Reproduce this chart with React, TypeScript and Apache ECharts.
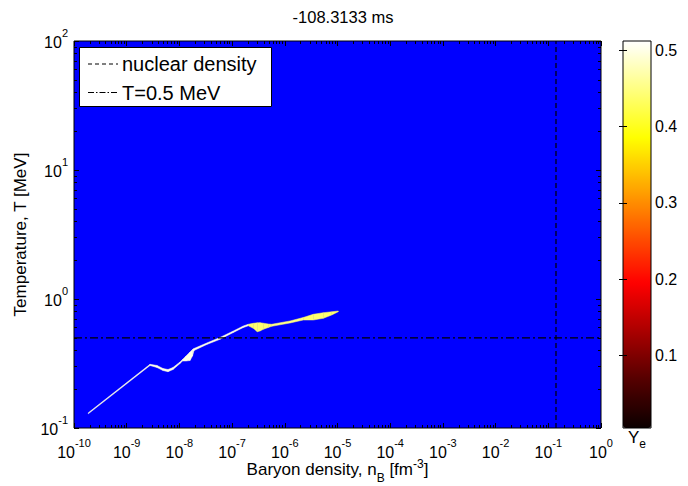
import React, { useEffect, useRef } from "react";
import * as echarts from "echarts";

const chartTitle = "-108.3133 ms";
const xAxisTitle = "Baryon density";
const yAxisTitle = "Temperature, T [MeV]";
const legendNames = ["nuclear density", "T=0.5 MeV"];

// axis tick labels (decades)
const xTickValues = [1e-10, 1e-9, 1e-8, 1e-7, 1e-6, 1e-5, 1e-4, 1e-3, 1e-2, 1e-1, 1];
const yTickValues = [0.1, 1, 10, 100];
const colorbarTicks = [0.1, 0.2, 0.3, 0.4, 0.5];
const colorbarRange = [0.005, 0.512];

// reference lines
const nuclearDensity = 0.14; // fm^-3
const tempLine = 0.5; // MeV

// trajectory band: baryon density, upper/lower temperature, Ye
const bandDensity = [
  1.867e-10, 2.77e-9, 3.76e-9, 4.89e-9, 6.08e-9, 7.56e-9, 1.027e-8, 1.145e-8, 1.334e-8,
  1.589e-8, 1.773e-8, 1.892e-8, 3.3e-8, 5.89e-8, 1.054e-7, 1.631e-7, 2.029e-7, 2.525e-7,
  3.007e-7, 3.383e-7, 3.908e-7, 4.863e-7, 5.641e-7, 1.255e-6, 2.244e-6, 3.473e-6,
  5.377e-6, 7.76e-6, 1.035e-5,
];
const bandTempUpper = [
  0.1312, 0.3118, 0.3052, 0.2891, 0.2841, 0.2944, 0.3248, 0.3396, 0.3614, 0.3882, 0.4059,
  0.4132, 0.4558, 0.503, 0.5648, 0.6177, 0.6367, 0.6481, 0.6539, 0.6551, 0.6493, 0.64,
  0.6367, 0.6753, 0.7188, 0.761, 0.783, 0.7957, 0.8072,
];
const bandTempLower = [
  0.1288, 0.3052, 0.2944, 0.279, 0.2731, 0.2841, 0.3162, 0.3306, 0.3306, 0.3336, 0.3614,
  0.3988, 0.4438, 0.4871, 0.5499, 0.6014, 0.6198, 0.5929, 0.5579, 0.5648, 0.5823, 0.6014,
  0.6144, 0.6516, 0.6874, 0.6874, 0.7086, 0.7516, 0.7972,
];
const bandYe = [
  0.5, 0.5, 0.5, 0.5, 0.5, 0.5, 0.5, 0.5, 0.5, 0.5, 0.5, 0.5, 0.5, 0.5, 0.5, 0.5, 0.44,
  0.44, 0.44, 0.44, 0.44, 0.44, 0.45, 0.45, 0.44, 0.44, 0.44, 0.44, 0.44,
];

// MATLAB "hot" colormap stops
const hotColors = [
  "#0b0000", "#550000", "#aa0000", "#ff0000", "#ff5500", "#ffaa00", "#ffff00", "#ffff80", "#ffffff",
];

const FONT = "'Liberation Sans', Arial, Helvetica, sans-serif";

function minorTicks(majors: number[]) {
  const out: number[] = [];
  for (let i = 0; i < majors.length - 1; i++) {
    for (let k = 2; k <= 9; k++) out.push(majors[i] * k);
  }
  return out;
}

const expRich = {
  b: { fontSize: 16, lineHeight: 18, verticalAlign: "bottom", color: "#000", fontFamily: FONT },
  sup: { fontSize: 11, lineHeight: 12, verticalAlign: "bottom", padding: [0, 0, 12, 0], color: "#000", fontFamily: FONT },
};
const expFormatter = (v: number) => `{b|10}{sup|${Math.round(Math.log10(v))}}`;

export default function App() {
  const ref = useRef<HTMLDivElement>(null);
  useEffect(() => {
    if (!ref.current) return;
    const chart = echarts.init(ref.current, null, { renderer: "svg" });
    const xMinor = minorTicks(xTickValues);
    const yMinor = minorTicks(yTickValues);
    const xMin = xTickValues[0];
    const xMax = xTickValues[xTickValues.length - 1];
    const yMin = yTickValues[0];
    const yMax = yTickValues[yTickValues.length - 1];

    const logX = (position: string, ticks: number[], len: number, extra: any = {}) => ({
      gridIndex: 0,
      type: "log",
      logBase: 10,
      min: xMin,
      max: xMax,
      position,
      axisLine: { show: false },
      splitLine: { show: false },
      axisTick: { show: true, inside: true, length: len, customValues: ticks, lineStyle: { color: "#000", width: 1 } },
      axisLabel: { show: false },
      z: 6,
      ...extra,
    });
    const logY = (position: string, ticks: number[], len: number, extra: any = {}) => ({
      gridIndex: 0,
      type: "log",
      logBase: 10,
      min: yMin,
      max: yMax,
      position,
      axisLine: { show: false },
      splitLine: { show: false },
      axisTick: { show: true, inside: true, length: len, customValues: ticks, lineStyle: { color: "#000", width: 1 } },
      axisLabel: { show: false },
      z: 6,
      ...extra,
    });

    const legendRow = (i: number, dash: number[]) => {
      const y = 64 + i * 28.5;
      return [
        {
          type: "line",
          z: 21,
          shape: { x1: 88, y1: y, x2: 118, y2: y },
          style: { stroke: "#000", lineWidth: 1, lineDash: dash },
        },
        {
          type: "text",
          z: 21,
          x: 122,
          y,
          style: {
            text: legendNames[i],
            fontSize: 20,
            fontFamily: FONT,
            fill: "#000",
            verticalAlign: "middle",
            align: "left",
          },
        },
      ];
    };

    const option: any = {
      animation: false,
      backgroundColor: "#fff",
      textStyle: { fontFamily: FONT },
      graphic: [
        {
          type: "text",
          x: 343,
          y: 17,
          style: {
            text: chartTitle,
            fontSize: 16.5,
            fontFamily: FONT,
            fill: "#000",
            align: "center",
            verticalAlign: "middle",
          },
        },
        {
          type: "rect",
          z: 20,
          shape: { x: 79.5, y: 47.5, width: 192, height: 59 },
          style: { fill: "#fff", stroke: "#000", lineWidth: 1 },
        },
        ...legendRow(0, [4, 3]),
        ...legendRow(1, [6, 2, 1.5, 2]),
      ],
      grid: [
        {
          left: 74, right: 87, top: 41, bottom: 58,
          show: true, backgroundColor: "#0000ff", borderColor: "#000", borderWidth: 1,
          outerBoundsMode: "none",
        },
        {
          left: 623, width: 28, top: 41, bottom: 58,
          show: true, backgroundColor: "transparent", borderColor: "#000", borderWidth: 1, z: 10,
          outerBoundsMode: "none",
        },
      ],
      xAxis: [
        logX("bottom", xTickValues, 5, {
          axisLabel: { show: true, customValues: xTickValues, formatter: expFormatter, margin: 14, rich: expRich },
          name: `{b|${xAxisTitle}, n}{sub|B}{b| [fm}{sup|-3}{b|]}`,
          nameLocation: "middle",
          nameGap: 36,
          nameMoveOverlap: false,
          nameTextStyle: {
            rich: {
              b: { fontSize: 17, lineHeight: 20, verticalAlign: "bottom", padding: [0, 0, 6, 0], color: "#000", fontFamily: FONT },
              sub: { fontSize: 12, lineHeight: 13, verticalAlign: "bottom", color: "#000", fontFamily: FONT },
              sup: { fontSize: 12, lineHeight: 13, verticalAlign: "bottom", padding: [0, 0, 14, 0], color: "#000", fontFamily: FONT },
            },
          },
        }),
        logX("bottom", xMinor, 3),
        logX("top", xTickValues, 5),
        logX("top", xMinor, 3),
        {
          gridIndex: 1, type: "value", min: 0, max: 1, position: "bottom",
          axisLine: { show: false }, axisTick: { show: false }, axisLabel: { show: false }, splitLine: { show: false },
          name: "{y|Y}{e|e}",
          nameLocation: "middle",
          nameGap: 2,
          nameMoveOverlap: false,
          nameTextStyle: {
            rich: {
              y: { fontSize: 17, lineHeight: 20, verticalAlign: "bottom", padding: [0, 0, 4, 0], color: "#000", fontFamily: FONT },
              e: { fontSize: 12, lineHeight: 13, verticalAlign: "bottom", color: "#000", fontFamily: FONT },
            },
          },
        },
      ],
      yAxis: [
        logY("left", yTickValues, 5, {
          axisLabel: { show: true, customValues: yTickValues, formatter: expFormatter, margin: 6, rich: expRich },
          name: yAxisTitle,
          nameLocation: "middle",
          nameGap: 45,
          nameMoveOverlap: false,
          nameTextStyle: { fontSize: 17, color: "#000", fontFamily: FONT },
        }),
        logY("left", yMinor, 3),
        logY("right", yTickValues, 5),
        logY("right", yMinor, 3),
        {
          gridIndex: 1, type: "value", min: colorbarRange[0], max: colorbarRange[1], position: "right",
          axisLine: { show: false }, splitLine: { show: false },
          axisTick: { show: true, inside: true, length: 4, customValues: colorbarTicks, lineStyle: { color: "#000" } },
          axisLabel: {
            show: true, customValues: colorbarTicks, formatter: (v: number) => v.toFixed(1),
            margin: 4, fontSize: 16, color: "#000", fontFamily: FONT,
          },
          z: 10,
        },
        {
          gridIndex: 1, type: "value", min: colorbarRange[0], max: colorbarRange[1], position: "left",
          axisLine: { show: false }, splitLine: { show: false },
          axisTick: { show: true, inside: true, length: 4, customValues: colorbarTicks, lineStyle: { color: "#000" } },
          axisLabel: { show: false },
          z: 10,
        },
      ],
      visualMap: {
        type: "continuous",
        min: colorbarRange[0],
        max: colorbarRange[1],
        dimension: 3,
        seriesIndex: 2,
        show: true,
        calculable: false,
        hoverLink: false,
        left: 623,
        top: 41,
        itemWidth: 28,
        itemHeight: 387,
        padding: 0,
        inRange: { color: hotColors },
      },
      series: [
        {
          type: "line",
          name: legendNames[0],
          xAxisIndex: 0,
          yAxisIndex: 0,
          data: [[nuclearDensity, yMin], [nuclearDensity, yMax]],
          symbol: "none",
          silent: true,
          z: 5,
          itemStyle: { color: "#000" },
          lineStyle: { color: "#000", width: 1.2, type: [5, 3] },
        },
        {
          type: "line",
          name: legendNames[1],
          xAxisIndex: 0,
          yAxisIndex: 0,
          data: [[xMin, tempLine], [xMax, tempLine]],
          symbol: "none",
          silent: true,
          z: 5,
          itemStyle: { color: "#000" },
          lineStyle: { color: "#000", width: 1.2, type: [8, 3, 2, 3] },
        },
        {
          type: "custom",
          name: "Ye",
          xAxisIndex: 0,
          yAxisIndex: 0,
          z: 3,
          silent: true,
          encode: { x: 0, y: [1, 2] },
          data: bandDensity.map((n, i) => [n, bandTempLower[i], bandTempUpper[i], bandYe[i]]),
          renderItem: (params: any, api: any) => {
            const i = params.dataIndexInside;
            if (i >= params.dataInsideLength - 1) return null;
            const p0u = api.coord([api.value(0, i), api.value(2, i)]);
            const p1u = api.coord([api.value(0, i + 1), api.value(2, i + 1)]);
            const p1l = api.coord([api.value(0, i + 1), api.value(1, i + 1)]);
            const p0l = api.coord([api.value(0, i), api.value(1, i)]);
            const color = api.visual("color");
            return {
              type: "polygon",
              shape: { points: [p0u, p1u, p1l, p0l] },
              style: { fill: color, stroke: color, lineWidth: 0.5 },
            };
          },
        },
      ],
    };
    chart.setOption(option);
    return () => chart.dispose();
  }, []);
  return (
    <div
      ref={ref}
      style={{ position: "fixed", left: 0, top: 0, width: 688, height: 486, background: "#fff" }}
    />
  );
}
